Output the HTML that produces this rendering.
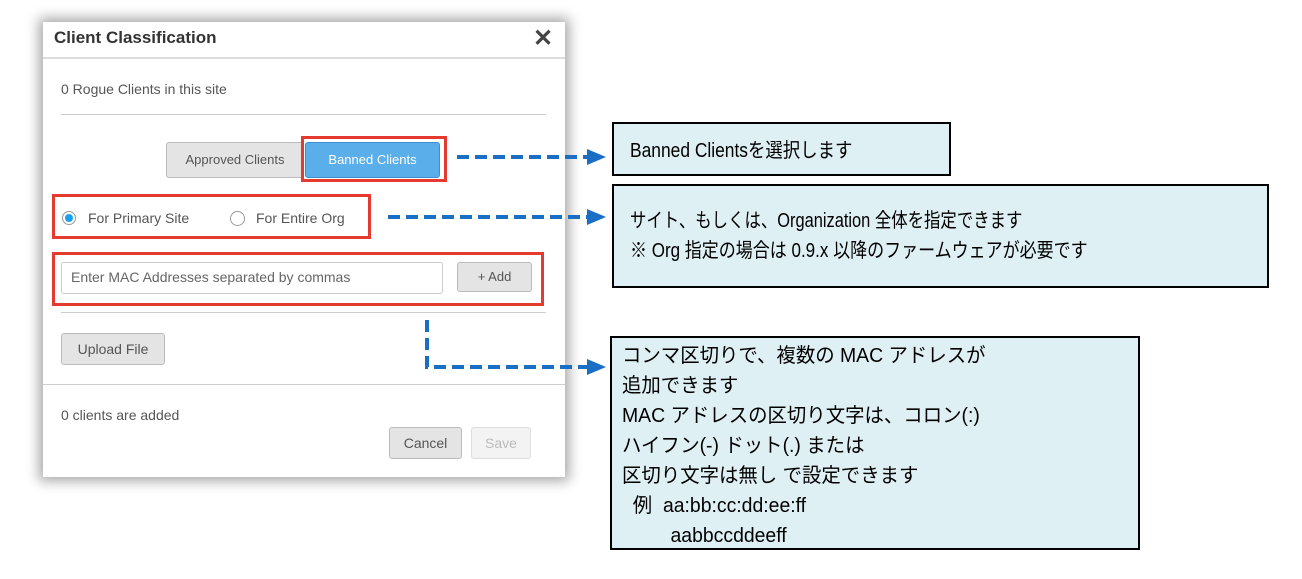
<!DOCTYPE html>
<html><head><meta charset="utf-8"><style>
body{margin:0;width:1302px;height:579px;background:#fff;position:relative;overflow:hidden;font-family:"Liberation Sans","Noto Sans CJK JP",sans-serif}
.a{position:absolute}
.dlg{left:43px;top:22px;width:522px;height:455px;background:#fff;box-shadow:0 0 12px 4px rgba(0,0,0,.35)}
.t{color:#555;font-size:14px;white-space:nowrap}
.hl{height:1px;background:#ccc}
.btn{background:#e4e4e4;border:1px solid #bbb;border-radius:3px;color:#555;font-size:13px;text-align:center;box-sizing:border-box}
.red{border:3px solid #e53a2f;box-sizing:border-box}
.box{background:#dff0f5;border:2px solid #000;box-sizing:border-box;font-family:"Liberation Sans","Noto Sans CJK JP",sans-serif;font-size:20px;color:#000;white-space:nowrap}
.box div{position:absolute;left:16px;transform-origin:0 0}
</style></head><body>
<div class="a dlg"></div>
<div class="a" style="left:54px;top:28px;font-size:17px;font-weight:bold;color:#333">Client Classification</div>
<div class="a" style="left:533px;top:24px;font-size:24px;font-weight:bold;color:#444">✕</div>
<div class="a hl" style="left:43px;top:57px;width:522px;height:2px;background:#ddd"></div>
<div class="a t" style="left:61px;top:81px">0 Rogue Clients in this site</div>
<div class="a hl" style="left:61px;top:114px;width:485px"></div>
<div class="a btn" style="left:166px;top:142px;width:138px;height:36px;line-height:34px">Approved Clients</div>
<div class="a btn" style="left:305px;top:142px;width:135px;height:36px;line-height:34px;background:#5aaeea;border-color:#3b8fd0;color:#fff">Banned Clients</div>
<div class="a red" style="left:301px;top:136px;width:146px;height:46px"></div>
<div class="a red" style="left:52px;top:194px;width:319px;height:45px"></div>
<div class="a" style="left:62px;top:211px;width:14px;height:14px;border:1px solid #999;border-radius:50%;box-sizing:border-box"></div>
<div class="a" style="left:65px;top:214px;width:8px;height:8px;background:#1aa0f0;border-radius:50%"></div>
<div class="a t" style="left:88px;top:210px">For Primary Site</div>
<div class="a" style="left:230px;top:211px;width:15px;height:15px;border:1px solid #999;border-radius:50%;box-sizing:border-box"></div>
<div class="a t" style="left:256px;top:210px">For Entire Org</div>
<div class="a red" style="left:52px;top:252px;width:492px;height:54px"></div>
<div class="a" style="left:61px;top:262px;width:382px;height:32px;border:1px solid #ccc;border-radius:3px;box-sizing:border-box"></div>
<div class="a t" style="left:71px;top:269px;color:#666">Enter MAC Addresses separated by commas</div>
<div class="a btn" style="left:457px;top:262px;width:75px;height:30px;line-height:28px">+ Add</div>
<div class="a hl" style="left:61px;top:312px;width:485px"></div>
<div class="a btn" style="left:61px;top:333px;width:104px;height:32px;line-height:30px;font-size:14px">Upload File</div>
<div class="a hl" style="left:43px;top:384px;width:522px"></div>
<div class="a t" style="left:61px;top:407px">0 clients are added</div>
<div class="a btn" style="left:389px;top:427px;width:73px;height:32px;line-height:30px;font-size:14px">Cancel</div>
<div class="a btn" style="left:471px;top:427px;width:60px;height:32px;line-height:30px;font-size:14px;background:#f3f3f3;color:#bbb;border-color:#ddd">Save</div>
<svg class="a" style="left:0;top:0" width="1302" height="579">
<g stroke="#1a6fc4" stroke-width="4" stroke-dasharray="12,6" fill="none">
<line x1="457" y1="157" x2="590" y2="157"/>
<line x1="388" y1="217" x2="590" y2="217"/>
<polyline points="427,320 427,367 590,367"/>
</g>
<g fill="#1a6fc4">
<polygon points="587,149 606,157 587,165"/>
<polygon points="587,209 606,217 587,225"/>
<polygon points="587,359 606,367 587,375"/>
</g>
</svg>
<div class="a box" style="left:612px;top:122px;width:339px;height:54px"><div style="top:10px;transform:scaleX(0.87)">Banned Clientsを選択します</div></div>
<div class="a box" style="left:612px;top:184px;width:657px;height:104px"><div style="top:18px;transform:scaleX(0.82)">サイト、もしくは、Organization 全体を指定できます</div><div style="top:48px;transform:scaleX(0.85)">※ Org 指定の場合は 0.9.x 以降のファームウェアが必要です</div></div>
<div class="a box" style="left:610px;top:336px;width:530px;height:214px;line-height:30px"><div style="left:10px;top:3px;transform:scaleX(0.97)">コンマ区切りで、複数の MAC アドレスが<br>追加できます<br>MAC アドレスの区切り文字は、コロン(:)<br>ハイフン(-) ドット(.) または<br>区切り文字は無し で設定できます<br>&nbsp;&nbsp;例&nbsp;&nbsp;aa:bb:cc:dd:ee:ff<br>&nbsp;&nbsp;&nbsp;&nbsp;&nbsp;&nbsp;&nbsp;&nbsp;&nbsp;aabbccddeeff</div></div>
</body></html>
